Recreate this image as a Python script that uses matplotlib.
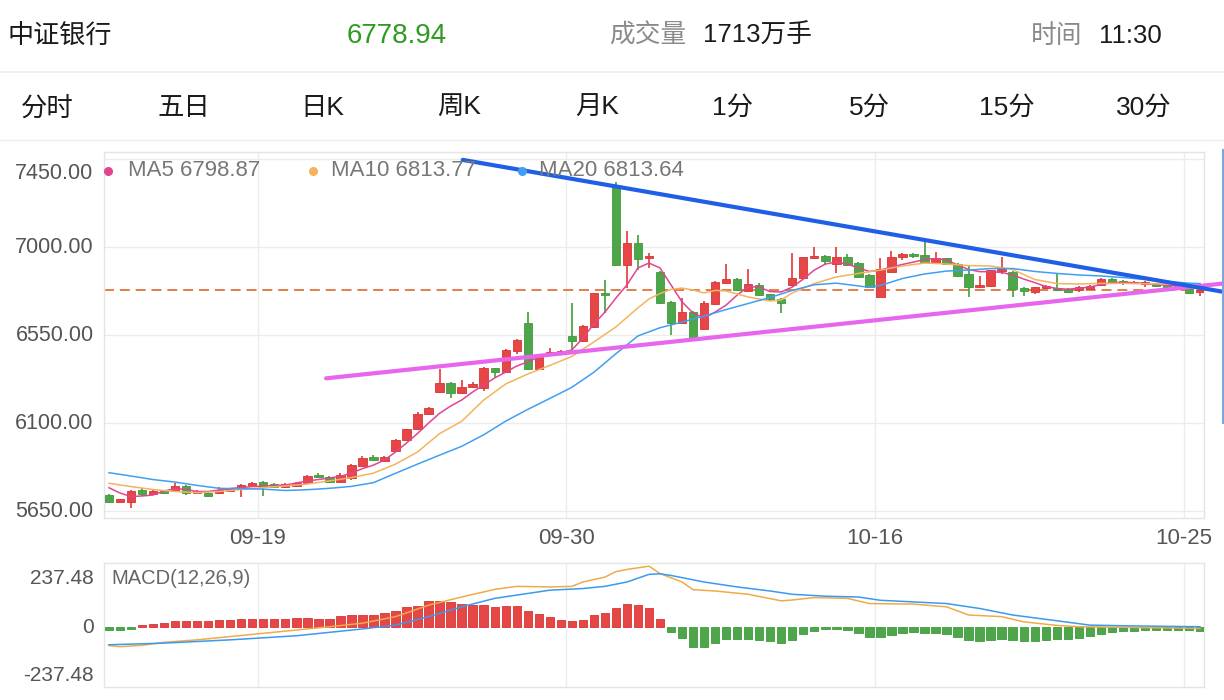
import matplotlib
matplotlib.use('Agg')
import matplotlib.pyplot as plt
from matplotlib.lines import Line2D
from matplotlib.transforms import offset_copy
import numpy as np

plt.rcParams['font.family'] = ['Liberation Sans', 'Noto Sans CJK SC', 'DejaVu Sans']

# ---------------- data ----------------
title_name = '中证银行'
last_price = 6778.94
volume_text = '1713万手'
time_text = '11:30'
tabs = ['分时', '五日', '日K', '周K', '月K', '1分', '5分', '15分', '30分']

date_labels = ['09-19', '09-30', '10-16', '10-25']
date_pos = [13.5, 41.5, 69.5, 97.5]
price_ticks = [5650, 6100, 6550, 7000, 7450]

open_ = [5732, 5694, 5694, 5757, 5737, 5755, 5750, 5778, 5744, 5741,
         5741, 5754, 5766, 5778, 5800, 5787, 5774, 5778, 5792, 5834,
         5822, 5800, 5817, 5880, 5925, 5907, 5957, 6013, 6068, 6145,
         6261, 6304, 6255, 6283, 6278, 6380, 6363, 6470, 6611, 6377,
         6448, 6457, 6547, 6522, 6593, 6767, 7310, 6909, 7023, 6943,
         6873, 6721, 6611, 6670, 6581, 6709, 6818, 6836, 6777, 6807,
         6759, 6733, 6807, 6841, 6943, 6957, 6914, 6951, 6918, 6858,
         6747, 6875, 6951, 6964, 6960, 6918, 6943, 6913, 6861, 6795,
         6802, 6878, 6875, 6790, 6772, 6790, 6790, 6785, 6781, 6786,
         6807, 6836, 6827, 6815, 6810, 6812, 6807, 6790, 6785, 6771]
high = [5737, 5714, 5758, 5768, 5763, 5760, 5795, 5783, 5760, 5745,
        5774, 5770, 5788, 5796, 5806, 5791, 5791, 5800, 5834, 5846,
        5827, 5846, 5891, 5931, 5937, 5929, 6020, 6072, 6158, 6182,
        6377, 6310, 6320, 6310, 6387, 6384, 6479, 6530, 6667, 6443,
        6483, 6474, 6716, 6602, 6768, 6832, 7332, 7085, 7061, 6972,
        6878, 6727, 6739, 6676, 6725, 6827, 6914, 6840, 6887, 6818,
        6763, 6738, 6972, 6952, 7000, 6960, 7000, 6965, 6922, 6863,
        6943, 6982, 6972, 6972, 7037, 6977, 6947, 6917, 6909, 6853,
        6886, 6948, 6878, 6794, 6799, 6807, 6861, 6789, 6802, 6805,
        6840, 6840, 6832, 6827, 6825, 6815, 6809, 6807, 6789, 6781]
low = [5690, 5689, 5664, 5729, 5734, 5737, 5747, 5732, 5740, 5722,
       5737, 5750, 5723, 5775, 5727, 5770, 5770, 5775, 5788, 5819,
       5793, 5796, 5809, 5875, 5906, 5903, 5952, 6008, 6065, 6141,
       6256, 6227, 6251, 6279, 6266, 6334, 6359, 6453, 6372, 6372,
       6446, 6453, 6474, 6517, 6589, 6662, 6904, 6790, 6883, 6892,
       6709, 6551, 6607, 6530, 6576, 6704, 6814, 6776, 6773, 6750,
       6727, 6662, 6802, 6837, 6940, 6909, 6870, 6904, 6845, 6789,
       6743, 6871, 6935, 6943, 6917, 6914, 6909, 6848, 6747, 6791,
       6799, 6863, 6747, 6752, 6760, 6786, 6776, 6768, 6769, 6784,
       6804, 6812, 6809, 6812, 6795, 6797, 6791, 6786, 6763, 6750]
close = [5694, 5710, 5754, 5737, 5754, 5741, 5778, 5741, 5754, 5727,
         5757, 5766, 5783, 5792, 5774, 5774, 5787, 5792, 5829, 5822,
         5800, 5834, 5885, 5920, 5911, 5925, 6013, 6068, 6146, 6179,
         6307, 6255, 6283, 6300, 6383, 6363, 6474, 6525, 6377, 6440,
         6465, 6469, 6522, 6598, 6764, 6755, 6909, 7023, 6940, 6955,
         6714, 6611, 6670, 6535, 6713, 6824, 6836, 6781, 6812, 6755,
         6733, 6713, 6841, 6948, 6957, 6931, 6948, 6909, 6849, 6795,
         6887, 6948, 6964, 6957, 6922, 6943, 6913, 6853, 6795, 6807,
         6883, 6889, 6785, 6777, 6795, 6803, 6781, 6772, 6795, 6802,
         6836, 6815, 6815, 6824, 6820, 6802, 6795, 6803, 6767, 6778.94]

ma5 = [5769, 5742, 5724, 5727, 5732, 5752, 5765, 5760, 5750, 5750,
       5757, 5765, 5770, 5775, 5778, 5780, 5783, 5793, 5804, 5811,
       5819, 5827, 5844, 5867, 5885, 5911, 5952, 5998, 6047, 6100,
       6150, 6187, 6218, 6259, 6295, 6331, 6361, 6392, 6413, 6438,
       6448, 6460, 6474, 6535, 6607, 6668, 6740, 6807, 6894, 6919,
       6894, 6807, 6720, 6663, 6638, 6668, 6704, 6755, 6798, 6796,
       6773, 6771, 6796, 6837, 6883, 6914, 6924, 6914, 6894, 6876,
       6883, 6899, 6912, 6924, 6937, 6942, 6935, 6909, 6886, 6875,
       6875, 6871, 6858, 6837, 6819, 6799, 6789, 6785, 6790, 6796,
       6809, 6819, 6820, 6819, 6814, 6809, 6805, 6802, 6799, 6798.87]

ma10_idx = [0, 2, 4, 6, 8, 10, 12, 14, 16, 18, 20, 22, 24, 26, 28, 30, 32, 34,
            36, 38, 40, 42, 44, 46, 48, 49, 50, 51, 52, 53, 54, 55, 56, 57, 58,
            59, 60, 61, 62, 63, 64, 66, 68, 70, 72, 74, 76, 78, 80, 82, 84, 86,
            88, 90, 92, 94, 96, 98, 99]
ma10 = [5792, 5775, 5760, 5750, 5744, 5750, 5760, 5770, 5778, 5788, 5804, 5821,
        5844, 5890, 5952, 6046, 6109, 6218, 6300, 6351, 6395, 6441, 6515, 6592,
        6690, 6735, 6763, 6784, 6791, 6781, 6766, 6779, 6776, 6761, 6745, 6735,
        6725, 6730, 6766, 6791, 6814, 6848, 6866, 6883, 6904, 6919, 6914, 6906,
        6904, 6886, 6835, 6814, 6812, 6815, 6815, 6813, 6812, 6812, 6813.77]

ma20_idx = [0, 2, 4, 6, 8, 10, 12, 14, 16, 18, 20, 22, 24, 26, 28, 30, 32, 34,
            36, 38, 40, 42, 44, 46, 48, 50, 52, 54, 56, 58, 60, 62, 64, 66, 68,
            69, 70, 72, 74, 76, 78, 80, 82, 84, 86, 88, 90, 92, 94, 96, 98, 99]
ma20 = [5846, 5829, 5811, 5798, 5781, 5766, 5764, 5762, 5755, 5759, 5766, 5776,
        5795, 5843, 5890, 5936, 5981, 6040, 6110, 6170, 6226, 6283, 6360, 6455,
        6546, 6588, 6617, 6648, 6681, 6712, 6743, 6779, 6808, 6816, 6802, 6795,
        6804, 6840, 6863, 6878, 6883, 6891, 6891, 6876, 6866, 6858, 6853, 6845,
        6835, 6825, 6816, 6813.64]

# user-drawn trend lines: (bar index, price)
trend_down_x = [32.1, 101.2]
trend_down_y = [7447, 6771]
trend_up_x = [19.7, 101.2]
trend_up_y = [6329, 6815]

macd_hist = [-11, -11, -7, 9, 11, 15, 22, 22, 22, 22,
             25, 27, 31, 31, 31, 31, 31, 35, 35, 31,
             31, 40, 46, 46, 46, 51, 61, 73, 79, 95,
             96, 91, 87, 81, 81, 75, 78, 79, 59, 47,
             36, 27, 24, 27, 45, 54, 69, 87, 81, 72,
             29, -18, -40, -73, -72, -56, -44, -44, -44, -46,
             -50, -58, -46, -25, -12, -8, -5, -10, -22, -36,
             -34, -28, -22, -18, -22, -22, -25, -34, -46, -52,
             -46, -43, -46, -50, -50, -46, -44, -43, -40, -32,
             -24, -19, -15, -12, -10, -10, -10, -10, -10, -12]
dif_idx = [0, 1, 3, 5, 8, 11, 14, 17, 20, 23, 26, 29, 32, 35, 37, 40, 42, 43,
           45, 46, 47, 49, 50, 52, 53, 55, 58, 61, 62, 64, 67, 69, 73, 76, 78,
           81, 83, 86, 88, 92, 99]
dif = [-67, -71, -66, -55, -46, -34, -22, -10, 2, 15, 39, 81, 111, 139, 150,
       148, 150, 166, 184, 204, 212, 224, 197, 166, 138, 133, 121, 97, 100, 109,
       106, 87, 85, 75, 45, 39, 20, 7, 2, 0, -4]
dea_idx = [0, 5, 11, 17, 23, 26, 29, 32, 35, 37, 40, 43, 45, 47, 49, 50, 51, 54,
           57, 60, 62, 65, 68, 70, 73, 76, 79, 82, 86, 89, 93, 99]
dea = [-64, -58, -46, -31, -6, 8, 39, 75, 106, 118, 136, 142, 150, 166, 194,
       196, 190, 166, 148, 133, 121, 114, 111, 99, 93, 87, 69, 45, 24, 8, 5, 2]
macd_range = 237.48

# ---------------- style ----------------
RED = '#e64646'
RED_E = '#d83434'
GREEN = '#4ea64a'
GREEN_E = '#3d9a3a'
C_MA5 = '#e0458e'
C_MA10 = '#f2b45e'
C_MA20 = '#409ff2'
GRID = '#ececec'
FRAME = '#e4e4e4'
LBL = '#555555'

W, H = 1224, 700
fig = plt.figure(figsize=(W / 100, H / 100), dpi=100)
fig.patch.set_facecolor('white')


def fx(px):
    return px / W


def fy(py):
    return 1 - py / H


# header
hdr_fs = 18.5
fig.text(fx(7), fy(36), title_name, fontsize=18.8, color='#1a1a1a', va='center', ha='left')
fig.text(fx(347), fy(36), f'{last_price:.2f}', fontsize=20, color='#2f9a22', va='center', ha='left')
fig.text(fx(609), fy(36), '成交量', fontsize=hdr_fs, color='#8a8a8a', va='center', ha='left')
fig.text(fx(703), fy(36), volume_text, fontsize=hdr_fs, color='#1a1a1a', va='center', ha='left')
fig.text(fx(1031), fy(36), '时间', fontsize=hdr_fs, color='#8a8a8a', va='center', ha='left')
fig.text(fx(1099), fy(36), time_text, fontsize=hdr_fs, color='#1a1a1a', va='center', ha='left')
fig.add_artist(Line2D([0, 1], [fy(71.5), fy(71.5)], color='#ebebeb', lw=1.2))

tab_centers = [47, 184, 322, 459, 597, 732, 869, 1007, 1144]
for t, cx in zip(tabs, tab_centers):
    fig.text(fx(cx), fy(108), t, fontsize=19, color='#1a1a1a', va='center', ha='center')
fig.add_artist(Line2D([0, 1], [fy(140), fy(140)], color='#eeeeee', lw=1.0))

# right-side blue edge marker
fig.add_artist(Line2D([fx(1223), fx(1223)], [fy(150), fy(423)], color='#7fa6df', lw=1.5))

# ---------------- main candle axes ----------------
ax = fig.add_axes([fx(104), fy(518), fx(1204) - fx(104), fy(152) - fy(518)])
n = len(close)
idx = np.arange(n)
o = np.array(open_, dtype=float)
c = np.array(close, dtype=float)
hi = np.array(high, dtype=float)
lo = np.array(low, dtype=float)
up = c >= o
cols = np.where(up, RED, GREEN)
ecols = np.where(up, RED_E, GREEN_E)

ax.set_xlim(-0.45, 99.36)
ax.set_ylim(5614.2, 7487.4)
ax.set_yticks(price_ticks)
ax.set_xticks(date_pos)
ax.grid(True, color=GRID, lw=1.0, zorder=0)
ax.tick_params(length=0, labelleft=False, labelbottom=False)
for s in ax.spines.values():
    s.set_color(FRAME)
    s.set_linewidth(1.0)

ax.axhline(last_price, color='#e0682a', lw=1.2, ls=(0, (6, 3.5)), zorder=2)

ax.vlines(idx, lo, hi, colors=cols, lw=1.3, zorder=3)
ax.bar(idx, np.maximum(np.abs(c - o), 5), bottom=np.minimum(o, c), width=0.76,
       color=cols, edgecolor=ecols, linewidth=0.6, zorder=4)

ax.plot(idx, ma5, color=C_MA5, lw=1.1, zorder=5)
ax.plot(ma10_idx, ma10, color=C_MA10, lw=1.1, zorder=5)
ax.plot(ma20_idx, ma20, color=C_MA20, lw=1.1, zorder=5)

ax.plot(trend_up_x, trend_up_y, color='#e866ee', lw=3.0, solid_capstyle='round',
        clip_on=False, zorder=7)
ax.plot(trend_down_x, trend_down_y, color='#1f5fe6', lw=3.0, solid_capstyle='round',
        clip_on=False, zorder=7)

# y labels
ytr = ax.get_yaxis_transform()
for v in price_ticks:
    if v == max(price_ticks):
        ax.text(-0.0095, v, f'{v:.2f}', transform=offset_copy(ytr, fig=fig, y=-4, units='dots'),
                ha='right', va='top', fontsize=15.5, color=LBL)
    else:
        ax.text(-0.0095, v, f'{v:.2f}', transform=ytr, ha='right', va='center',
                fontsize=15.5, color=LBL)
# date labels
xtr = ax.get_xaxis_transform()
for p, lab in zip(date_pos, date_labels):
    ax.text(p, -0.055, lab, transform=xtr, ha='center', va='center', fontsize=16, color=LBL)

# legend
leg = [('MA5', ma5[-1], C_MA5, 108, 128), ('MA10', ma10[-1], C_MA10, 313, 331),
       ('MA20', ma20[-1], C_MA20, 522, 539)]
for name, val, col, dx, tx in leg:
    fig.add_artist(Line2D([fx(dx)], [fy(171)], marker='o', ms=5.5, color=col, mec=col, lw=0))
    fig.text(fx(tx), fy(171), f'{name} {val:.2f}', fontsize=16, color='#777777',
             va='center', ha='left', zorder=6)

# ---------------- MACD axes ----------------
axm = fig.add_axes([fx(104), fy(686.7), fx(1204) - fx(104), fy(562.5) - fy(686.7)])
axm.set_xlim(-0.45, 99.36)
axm.set_ylim(-217.7, macd_range)
axm.set_xticks(date_pos)
axm.set_yticks([])
axm.grid(True, axis='x', color=GRID, lw=1.0, zorder=0)
axm.tick_params(length=0, labelleft=False, labelbottom=False)
for s in axm.spines.values():
    s.set_color(FRAME)
    s.set_linewidth(1.0)
hist = np.array(macd_hist, dtype=float)
hpos = hist >= 0
axm.bar(idx, hist, width=0.76, color=np.where(hpos, RED, GREEN),
        edgecolor=np.where(hpos, RED_E, GREEN_E), linewidth=0.6, zorder=3)
axm.plot(dif_idx, dif, color='#f0aa48', lw=1.1, zorder=4)
axm.plot(dea_idx, dea, color='#3a9af0', lw=1.1, zorder=4)

axm.text(0.007, 0.87, 'MACD(12,26,9)', transform=axm.transAxes, ha='left', va='center',
         fontsize=14.5, color='#666666')
mtr = axm.get_yaxis_transform()
axm.text(-0.0095, 1.0, f'{macd_range:.2f}', transform=offset_copy(axm.transAxes, fig=fig, y=-6, units='dots'),
         ha='right', va='top', fontsize=15, color=LBL)
axm.text(-0.0095, 0, '0', transform=mtr, ha='right', va='center', fontsize=15, color=LBL)
axm.text(-0.0095, 0.0, f'{-macd_range:.2f}', transform=offset_copy(axm.transAxes, fig=fig, y=2, units='dots'),
         ha='right', va='bottom', fontsize=15, color=LBL)

fig.savefig('out.png', dpi=100, facecolor='white')
